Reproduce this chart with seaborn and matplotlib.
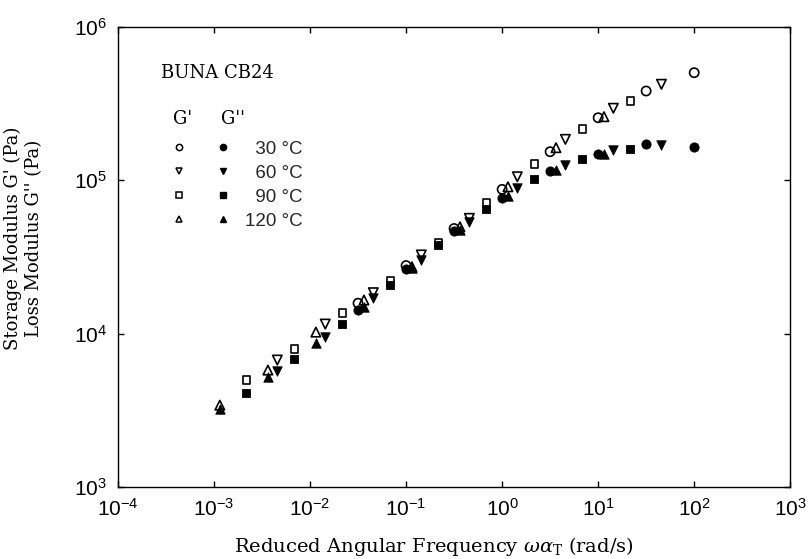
import numpy as np
import pandas as pd
import matplotlib
matplotlib.use("Agg")
import matplotlib.pyplot as plt
from matplotlib.lines import Line2D
from matplotlib.legend_handler import HandlerTuple
from matplotlib.ticker import LogLocator, NullLocator
import seaborn as sns

# Master curve of BUNA CB24: reduced frequency (rad/s) and moduli (Pa) per temperature
temperatures = ["30 °C", "60 °C", "90 °C", "120 °C"]

freq_30 = [0.0316, 0.1, 0.316, 1.0, 3.16, 10.0, 31.6, 100.0]
gp_30 = [15800, 27800, 48500, 87300, 153700, 255900, 382500, 503500]
gpp_30 = [14250, 26300, 46700, 76300, 115500, 147800, 171700, 164100]

freq_60 = [0.00456, 0.0144, 0.0456, 0.144, 0.456, 1.44, 4.56, 14.4, 45.6]
gp_60 = [6730, 11550, 18500, 32600, 56500, 105500, 185000, 295000, 423000]
gpp_60 = [5730, 9460, 17000, 30200, 53700, 88700, 125900, 157600, 169900]

freq_90 = [0.00217, 0.00686, 0.0217, 0.0686, 0.217, 0.686, 2.17, 6.86, 21.7]
gp_90 = [4980, 7940, 13630, 22000, 39000, 71400, 127700, 216000, 330000]
gpp_90 = [4080, 6800, 11600, 20700, 37600, 64700, 102300, 137700, 159300]

freq_120 = [0.00115, 0.00364, 0.0115, 0.0364, 0.115, 0.364, 1.15, 3.64, 11.5]
gp_120 = [3420, 5790, 10240, 16570, 27300, 49800, 90800, 163300, 260000]
gpp_120 = [3220, 5230, 8640, 14970, 26800, 47400, 79000, 116700, 147800]

freqs = [freq_30, freq_60, freq_90, freq_120]
storage = [gp_30, gp_60, gp_90, gp_120]
loss = [gpp_30, gpp_60, gpp_90, gpp_120]

markers = ["o", "v", "s", "^"]
marker_area = {"o": 44, "v": 46, "s": 30, "^": 46}

sns.set_theme(style="ticks")
plt.rcParams["font.family"] = ["DejaVu Serif"]
plt.rcParams["mathtext.fontset"] = "dejavuserif"

fig = plt.figure(figsize=(8.08, 5.59), dpi=100)
ax = fig.add_axes([0.146, 0.1288, 0.832, 0.8229])

frames = []
for temp, f, gp, gpp in zip(temperatures, freqs, storage, loss):
    frames.append(pd.DataFrame({"freq": f, "G1": gp, "G2": gpp, "T": temp}))
data = pd.concat(frames, ignore_index=True)

# storage modulus: open symbols
for temp, m in zip(temperatures, markers):
    sub = data[data["T"] == temp]
    sns.scatterplot(data=sub, x="freq", y="G1", marker=m, s=marker_area[m],
                    facecolor="none", edgecolor="black", linewidth=1.2,
                    ax=ax, zorder=3, legend=False)
# loss modulus: filled symbols
for temp, m in zip(temperatures, markers):
    sub = data[data["T"] == temp]
    sns.scatterplot(data=sub, x="freq", y="G2", marker=m, s=marker_area[m],
                    color="black", edgecolor="black", linewidth=0.6,
                    ax=ax, zorder=4, legend=False)

ax.set_xscale("log")
ax.set_yscale("log")
ax.set_xlim(1e-4, 1e3)
ax.set_ylim(1e3, 1e6)
ax.xaxis.set_major_locator(LogLocator(base=10, numticks=20))
ax.yaxis.set_major_locator(LogLocator(base=10, numticks=20))
ax.xaxis.set_minor_locator(NullLocator())
ax.yaxis.set_minor_locator(NullLocator())

for sp in ax.spines.values():
    sp.set_visible(True)
    sp.set_color("black")
    sp.set_linewidth(1.0)

ax.tick_params(which="major", direction="in", length=4, width=1.0,
               top=True, right=True, colors="black", labelsize=15,
               pad=8, labelfontfamily="Liberation Sans")

ax.set_xlabel(r"Reduced Angular Frequency $\omega\alpha_{\mathrm{T}}$ (rad/s)",
              fontsize=14, color="black", labelpad=2)
ax.xaxis.set_label_coords(0.47, -0.105)
ax.set_ylabel("Storage Modulus G' (Pa)\nLoss Modulus G'' (Pa)",
              fontsize=13, color="black", linespacing=1.2)
ax.yaxis.set_label_coords(-0.112, 0.54)

# sample name and column headers
ax.text(0.064, 0.899, "BUNA CB24", transform=ax.transAxes, fontsize=13,
        ha="left", va="center", color="black")
ax.text(0.082, 0.801, "G'", transform=ax.transAxes, fontsize=13,
        ha="left", va="center", color="black")
ax.text(0.154, 0.801, "G''", transform=ax.transAxes, fontsize=13,
        ha="left", va="center", color="black")

handles = []
for m in markers:
    h_open = Line2D([], [], linestyle="none", marker=m, markersize=4.5,
                    markerfacecolor="none", markeredgecolor="black",
                    markeredgewidth=1.1)
    h_fill = Line2D([], [], linestyle="none", marker=m, markersize=4.5,
                    markerfacecolor="black", markeredgecolor="black")
    handles.append((h_open, h_fill))
labels = [t if len(t) > 5 else "\u2007" + t for t in temperatures]

leg = ax.legend(handles, labels, handler_map={tuple: HandlerTuple(ndivide=None, pad=0.0)},
                loc="upper left", bbox_to_anchor=(0.058, 0.753), frameon=False,
                handlelength=4.7, handletextpad=0.0, labelspacing=0.37,
                borderaxespad=0.0, borderpad=0.0,
                prop={"family": "Liberation Sans", "size": 13.5})

fig.savefig("out.png", dpi=100, facecolor="white")
